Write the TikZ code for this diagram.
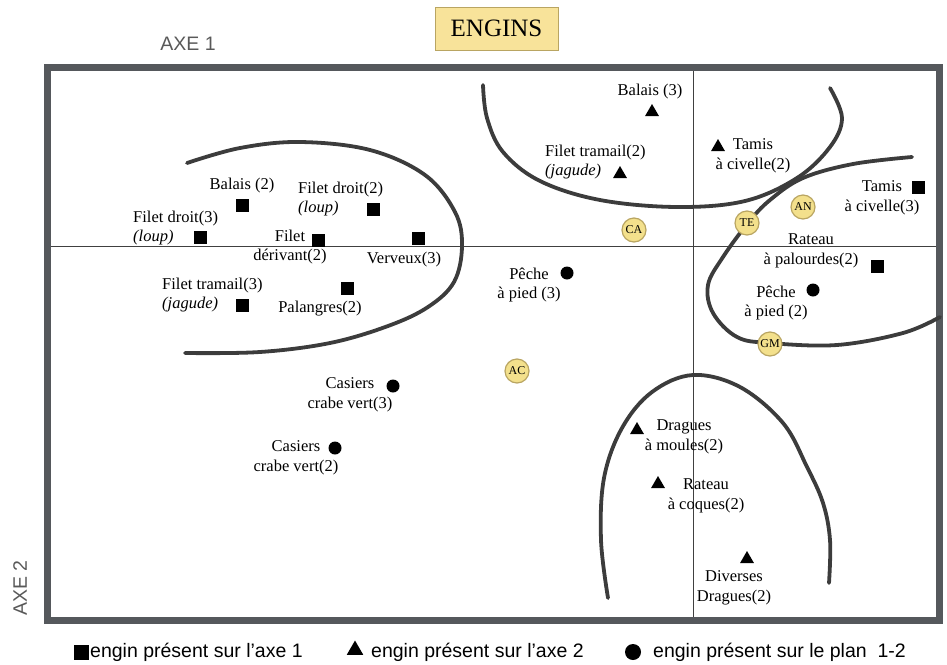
\documentclass[tikz,border=0pt]{standalone}
\usepackage{fontspec}
\setmainfont{Liberation Serif}
\setsansfont{Liberation Sans}
\usetikzlibrary{positioning, shapes.geometric}
\definecolor{framegray}{HTML}{55585C}
\definecolor{curvegray}{HTML}{3C3C3C}
\definecolor{grpyellow}{HTML}{F3E08C}
\definecolor{grpedge}{HTML}{B9A562}
\definecolor{titleyellow}{HTML}{F8E39A}

\tikzset{
  sq/.style={fill=black, minimum size=13pt, inner sep=0pt},
  tri/.style={regular polygon, regular polygon sides=3, fill=black, minimum size=16pt, inner sep=0pt},
  dot/.style={circle, fill=black, minimum size=13pt, inner sep=0pt},
  grp/.style={circle, fill=grpyellow, draw=grpedge, line width=1.2pt, minimum size=24pt, inner sep=0pt,
    font=\fontsize{12}{13}\selectfont},
  lbl/.style={inner sep=0pt, font=\fontsize{16.5}{19.5}\selectfont},
  zone/.style={curvegray, line width=3.8pt, line cap=round},
  legend/.style={inner sep=0pt, font=\sffamily\fontsize{19.5}{22}\selectfont}
}

\begin{document}
\begin{tikzpicture}[x=1pt, y=-1pt]
  \useasboundingbox (0,0) rectangle (947,664);

  % Title and axis names
  \node[draw=grpedge, fill=titleyellow, line width=1pt, minimum width=123pt, minimum height=43pt,
    font=\fontsize{25}{28}\selectfont] (title) at (496.5,28.5) {ENGINS};
  \node[legend, text=black!65] (axeone) at (188,44) {AXE 1};
  \node[legend, text=black!65, rotate=90] (axetwo) at (20,588) {AXE 2};

  % Axes
  \draw[black!75, line width=1pt] (48,246) -- (939,246);
  \draw[black!75, line width=1pt] (693,67) -- (693,620);

  % Frame
  \draw[framegray, line width=7pt] (47,67) rectangle (939,620);

  % Zones
  \draw[zone] plot[smooth, tension=0.6] coordinates {(187,163) (240,148) (300,142) (370,150)
    (425,175) (455,212) (462,246) (454,282) (428,307) (388,326) (330,343) (260,352) (185,353)};
  \draw[zone] plot[smooth, tension=0.6] coordinates {(483,85) (487,118) (503,152) (540,181)
    (600,200) (677,207) (745,201) (797,178) (830,147) (842,118) (830,88)};
  \draw[zone] plot[smooth, tension=0.6] coordinates {(912,157) (853,164) (803,178) (770,200)
    (748,223) (723,257) (708,285) (713,313) (737,337) (770,343) (837,345) (903,333) (940,317)};
  \draw[zone] plot[smooth, tension=0.6] coordinates {(608,598) (601,540) (604,478) (622,428)
    (652,392) (693,375) (740,387) (783,423) (807,467) (823,503) (830,540) (829,583)};

  % Engins sur l'axe 1
  \node[sq] (balaistwo) at (242,205) {};
  \node[lbl] (lbalaistwo) at (242,186) {Balais (2)};
  \node[sq] (droittwo) at (373,209) {};
  \node[lbl, align=left, anchor=west] (ldroittwo) at (298,199) {Filet droit(2)\\\textit{(loup)}};
  \node[sq] (droitthree) at (200,237) {};
  \node[lbl, align=left, anchor=west] (ldroitthree) at (133,228) {Filet droit(3)\\\textit{(loup)}};
  \node[sq] (derivant) at (318,240) {};
  \node[lbl, align=center] (lderivant) at (290,247) {Filet\\dérivant(2)};
  \node[sq] (verveux) at (418,238) {};
  \node[lbl] (lverveux) at (404,260) {Verveux(3)};
  \node[sq] (tramailthree) at (242,305) {};
  \node[lbl, align=left, anchor=west] (ltramailthree) at (162,295) {Filet tramail(3)\\\textit{(jagude)}};
  \node[sq] (palangres) at (347,288) {};
  \node[lbl] (lpalangres) at (320,309) {Palangres(2)};
  \node[sq] (tamisthree) at (918,187) {};
  \node[lbl, align=center] (ltamisthree) at (882,198) {Tamis\\à civelle(3)};
  \node[sq] (palourdes) at (877,266) {};
  \node[lbl, align=center] (lpalourdes) at (811,251) {Rateau\\à palourdes(2)};

  % Engins sur l'axe 2
  \node[tri] (balaisthree) at (652,112) {};
  \node[lbl] (lbalaisthree) at (650,92) {Balais (3)};
  \node[tri] (tramailtwo) at (620,174) {};
  \node[lbl, align=left, anchor=west] (ltramailtwo) at (545,162) {Filet tramail(2)\\\textit{(jagude)}};
  \node[tri] (tamistwo) at (718,147) {};
  \node[lbl, align=center] (ltamistwo) at (753,156) {Tamis\\à civelle(2)};
  \node[tri] (moules) at (637,430) {};
  \node[lbl, align=center] (lmoules) at (684,437) {Dragues\\à moules(2)};
  \node[tri] (coques) at (658,484) {};
  \node[lbl, align=center] (lcoques) at (706,496) {Rateau\\à coques(2)};
  \node[tri] (diverses) at (747,559) {};
  \node[lbl, align=center] (ldiverses) at (734,588) {Diverses\\Dragues(2)};

  % Engins sur le plan 1-2
  \node[dot] (piedthree) at (567,273) {};
  \node[lbl, align=center] (lpiedthree) at (529,285) {Pêche\\à pied (3)};
  \node[dot] (piedtwo) at (813,290) {};
  \node[lbl, align=center] (lpiedtwo) at (776,303) {Pêche\\à pied (2)};
  \node[dot] (casiersthree) at (393,386) {};
  \node[lbl, align=center] (lcasiersthree) at (350,395) {Casiers\\crabe vert(3)};
  \node[dot] (casierstwo) at (335,448) {};
  \node[lbl, align=center] (lcasierstwo) at (296,458) {Casiers\\crabe vert(2)};

  % Groupes
  \node[grp] (ca) at (634,230) {CA};
  \node[grp] (te) at (747,223) {TE};
  \node[grp] (an) at (803,207) {AN};
  \node[grp] (gm) at (770,344) {GM};
  \node[grp] (ac) at (517,371) {AC};

  % Legend
  \node[sq, minimum size=15pt] (legsq) at (81,652) {};
  \node[legend, anchor=west] (legsqtext) at (90,652) {engin présent sur l'axe 1};
  \node[tri, minimum size=19pt] (legtri) at (355,650) {};
  \node[legend, anchor=west] (legtritext) at (371,652) {engin présent sur l'axe 2};
  \node[dot, minimum size=16pt] (legdot) at (633,652) {};
  \node[legend, anchor=west] (legdottext) at (653,652) {engin présent sur le plan~~1-2};
\end{tikzpicture}
\end{document}
